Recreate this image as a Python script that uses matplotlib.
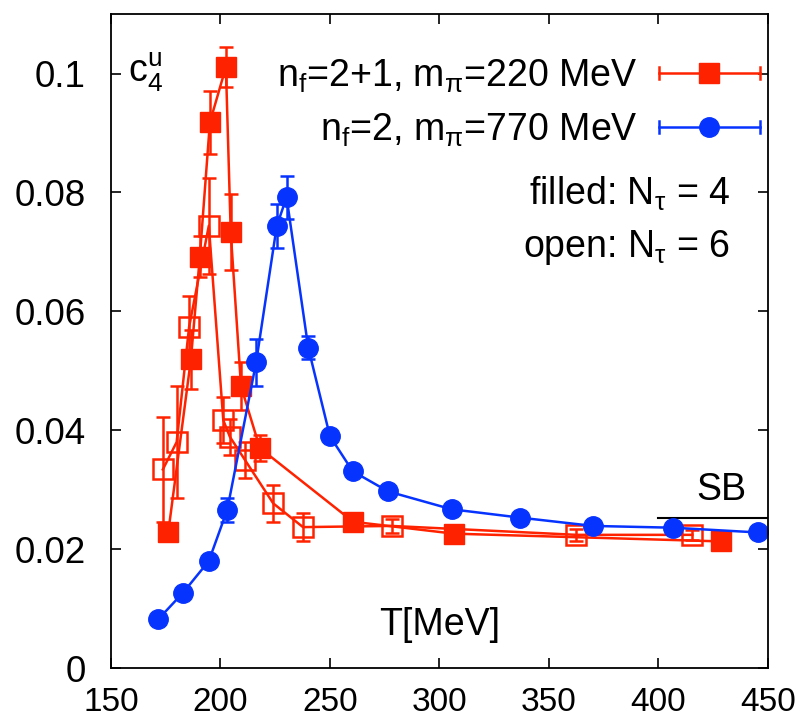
import numpy as np
import matplotlib
matplotlib.use("Agg")
from matplotlib import pyplot as plt
from matplotlib.lines import Line2D
from matplotlib.legend_handler import HandlerBase

plt.rcParams['font.family'] = ['Liberation Sans', 'DejaVu Sans']
plt.rcParams['mathtext.fontset'] = 'custom'
plt.rcParams['mathtext.rm'] = 'Liberation Sans'
plt.rcParams['mathtext.it'] = 'Liberation Sans'
plt.rcParams['mathtext.bf'] = 'Liberation Sans'

# n_f=2+1, m_pi=220 MeV, N_tau=4 (filled squares)
T_red4 = [176.2, 186.5, 190.6, 195.2, 202.5, 204.7, 209.4, 218.0, 260.6, 306.6, 428.4]
c4_red4 = [0.0229, 0.0519, 0.0692, 0.0918, 0.1011, 0.0733, 0.0474, 0.0370, 0.0246, 0.0226, 0.0213]
err_red4 = [0.001, 0.005, 0.0035, 0.0053, 0.0033, 0.0064, 0.004, 0.0022, 0.0008, 0.0008, 0.0005]

# n_f=2+1, N_tau=6 (open squares)
T_red6 = [173.7, 180.0, 185.7, 194.7, 201.3, 204.3, 211.2, 224.1, 237.7, 278.2, 362.6, 415.5]
c4_red6 = [0.0334, 0.0380, 0.0574, 0.0744, 0.0417, 0.0389, 0.0350, 0.0277, 0.0237, 0.0239, 0.0224, 0.0224]
err_red6 = [0.0088, 0.0094, 0.0052, 0.0081, 0.0039, 0.003, 0.003, 0.0031, 0.0024, 0.0012, 0.001, 0.0008]

# n_f=2, m_pi=770 MeV, N_tau=4 (filled circles)
T_blue = [171.6, 183.0, 194.7, 203.1, 216.3, 225.7, 230.2, 240.1, 250.0, 260.4, 276.6, 305.6, 336.8, 370.2, 406.8, 445.6]
c4_blue = [0.0082, 0.0127, 0.0180, 0.0266, 0.0514, 0.0743, 0.0792, 0.0539, 0.0390, 0.0331, 0.0297, 0.0267, 0.0253, 0.0239, 0.0236, 0.0228]
err_blue = [0.001, 0.001, 0.001, 0.002, 0.004, 0.0037, 0.0036, 0.002, 0.0008, 0.0008, 0.0006, 0.0006, 0.0005, 0.0005, 0.0005, 0.0005]

SB_T = [400, 450]
SB_val = 0.0253

xticks = [150, 200, 250, 300, 350, 400, 450]
yticks = [0, 0.02, 0.04, 0.06, 0.08, 0.1]

red = '#ff2200'
blue = '#0733ff'
fs = 27


class GnuplotKey(HandlerBase):
	# line with end caps and the marker in the middle, like gnuplot's key
	def create_artists(self, legend, orig_handle, xdescent, ydescent,
	                   width, height, fontsize, trans):
		x0 = -xdescent
		x1 = width - xdescent
		y = (height - ydescent) / 2.0
		h = 0.16 * fontsize
		c = orig_handle.get_color()
		arts = [
			Line2D([x0, x1], [y, y], color=c, lw=1.8),
			Line2D([x0, x0], [y - h, y + h], color=c, lw=1.8),
			Line2D([x1, x1], [y - h, y + h], color=c, lw=1.8),
			Line2D([(x0 + x1) / 2.0], [y], marker=orig_handle.get_marker(),
			       markersize=orig_handle.get_markersize(), color=c, lw=0),
		]
		for a in arts:
			a.set_transform(trans)
		return arts


fig = plt.figure(figsize=(8.04, 7.25), dpi=100)
ax = fig.add_axes([0.138, 0.0786, 0.817, 0.902])

ax.errorbar(T_red6, c4_red6, yerr=err_red6, color=red, lw=1.8, marker='s',
            markersize=14, markerfacecolor='none', markeredgewidth=1.8,
            capsize=5, elinewidth=1.8, capthick=1.8)
e1 = ax.errorbar(T_red4, c4_red4, yerr=err_red4, color=red, lw=1.8, marker='s',
                 markersize=14, capsize=5, elinewidth=1.8, capthick=1.8)
e2 = ax.errorbar(T_blue, c4_blue, yerr=err_blue, color=blue, lw=1.8, marker='o',
                 markersize=14, capsize=5, elinewidth=1.8, capthick=1.8)

ax.plot(SB_T, [SB_val, SB_val], color='black', lw=1.5)
ax.text(429, 0.0299, 'SB', fontsize=fs, ha='center', va='center')

h1 = e1.lines[0]
h2 = e2.lines[0]
ax.legend([h1, h2],
          [r'n$_{\rm f}$=2+1, m$_\pi$=220 MeV', r'n$_{\rm f}$=2, m$_\pi$=770 MeV'],
          handler_map={h1: GnuplotKey(), h2: GnuplotKey()},
          loc='upper right', bbox_to_anchor=(0.988, 0.934), frameon=False,
          markerfirst=False, fontsize=fs, handlelength=2.7, handletextpad=0.56,
          labelspacing=0.45, borderpad=0, borderaxespad=0)

ax.text(0.943, 0.709, r'filled: N$_\tau$ = 4', transform=ax.transAxes,
        fontsize=fs, ha='right', va='baseline')
ax.text(0.943, 0.628, r'open: N$_\tau$ = 6', transform=ax.transAxes,
        fontsize=fs, ha='right', va='baseline')
ax.text(300, 0.0072, 'T[MeV]', fontsize=fs, ha='center', va='center')
ax.text(158, 0.1003, r'$\mathrm{c}_4^\mathrm{u}$', fontsize=fs, ha='left', va='center')

ax.set_xlim(150, 450)
ax.set_ylim(0, 0.11)
ax.set_xticks(xticks)
ax.set_yticks(yticks)
ax.set_yticklabels(['%g' % v for v in yticks])
ax.tick_params(direction='in', length=7, width=1.2, top=True, right=True)
ax.tick_params(axis='x', pad=14, labelsize=24)
ax.tick_params(axis='y', pad=18, labelsize=26.5)
for sp in ax.spines.values():
	sp.set_linewidth(1.3)

fig.savefig('out.png', dpi=100)
plt.close()
